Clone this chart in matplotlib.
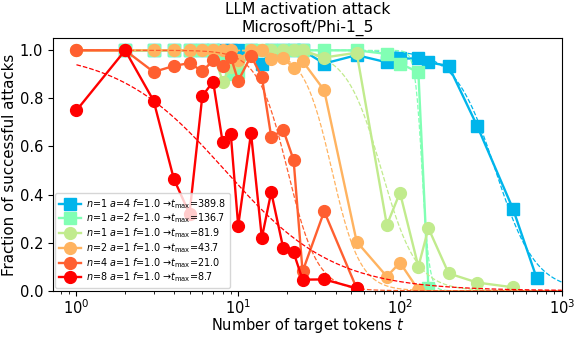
import numpy as np
import matplotlib
matplotlib.use("Agg")
import matplotlib.pyplot as plt

# ---------------- data ----------------
t_blue = [2,3,4,5,6,7,8,9,10,12,14,16,19,22,25,34,54,83,100,130,150,200,300,500,700]
v_blue = [1,1,1,1,1,1,1,1,1,1,0.945,1,1,1,1,0.945,0.98,0.95,0.966,0.966,0.95,0.935,0.686,0.34,0.053]

t_mint = [2,3,4,5,6,7,8,9,10,12,14,16,19,22,25,34,54,83,100,130,150]
v_mint = [1,1,1,1,1,1,0.95,0.9,0.91,1,1,1,1,1,1,1,1,0.985,0.945,0.909,0.01]

t_lgreen = [1,2,3,4,5,6,7,8,9,10,12,14,16,19,22,25,34,54,83,100,130,150,200,300,500]
v_lgreen = [1,1,1,1,1,1,1,0.87,0.93,0.95,1,1,1,1,1,1,0.97,0.99,0.273,0.408,0.1,0.26,0.072,0.034,0.014]

t_orange = [1,2,3,4,5,6,7,8,9,10,12,14,16,19,22,25,34,54,83,100,130]
v_orange = [1,1,1,1,1,1,1,1,1,0.96,1,1,0.964,0.968,0.927,0.955,0.834,0.204,0.059,0.117,0.003]

t_ored = [1,2,3,4,5,6,7,8,9,10,12,14,16,19,22,25,34,54]
v_ored = [1,1,0.91,0.935,0.947,0.913,0.958,0.934,0.972,0.873,0.977,0.89,0.64,0.668,0.544,0.08,0.33,0.01]

t_red = [1,2,3,4,5,6,7,8,9,10,12,14,16,19,22,25,34,54]
v_red = [0.75,1.0,0.79,0.465,0.32,0.81,0.87,0.62,0.65,0.27,0.655,0.22,0.41,0.176,0.159,0.046,0.047,0.01]

labels = [r"$n$=1 $a$=4 $f$=1.0 →$t_{\rm max}$=389.8",
          r"$n$=1 $a$=2 $f$=1.0 →$t_{\rm max}$=136.7",
          r"$n$=1 $a$=1 $f$=1.0 →$t_{\rm max}$=81.9",
          r"$n$=2 $a$=1 $f$=1.0 →$t_{\rm max}$=43.7",
          r"$n$=4 $a$=1 $f$=1.0 →$t_{\rm max}$=21.0",
          r"$n$=8 $a$=1 $f$=1.0 →$t_{\rm max}$=8.7"]

# fitted curve parameters (midpoint, steepness) per series
fit_t0 = [390, 137, 77, 38, 20.2, 8.3]
fit_k = [3.5, 20, 4, 5, 4.7, 1.3]

ts = [t_blue, t_mint, t_lgreen, t_orange, t_ored, t_red]
vs = [v_blue, v_mint, v_lgreen, v_orange, v_ored, v_red]
markers = ['s', 's', 'o', 'o', 'o', 'o']
colors = [plt.cm.rainbow(x) for x in [0.25, 0.5, 0.625, 0.75, 0.875, 1.0]]

# ---------------- plot ----------------
fig = plt.figure(figsize=(5.81, 3.38), dpi=100)
ax = fig.add_axes([53/581, (338-290.7)/338, (561.7-53)/581, (290.7-38.3)/338])

tfit = np.logspace(0, 3, 300)
for t, v, m, c, lab, t0, k in zip(ts, vs, markers, colors, labels, fit_t0, fit_k):
    ax.plot(t, v, marker=m, color=c, lw=1.7, ms=8 if m == 's' else 8.5, label=lab)
    ax.plot(tfit, 1/(1+(tfit/t0)**k), '--', color=c, lw=0.9)

ax.set_xscale('log')
ax.set_xlim(10**-0.145, 1000)
ax.set_ylim(0, 1.05)
ax.set_yticks([0, 0.2, 0.4, 0.6, 0.8, 1.0])
ax.tick_params(labelsize=10.5)
ax.tick_params(axis='x', pad=2)
ax.set_xlabel(r"Number of target tokens $t$", fontsize=10.5)
ax.xaxis.set_label_coords(0.5, -0.1)
ax.set_ylabel("Fraction of successful attacks", fontsize=10.8)
ax.yaxis.set_label_coords(-0.07, 0.5)
ax.set_title("LLM activation attack\nMicrosoft/Phi-1_5", fontsize=11.2, pad=5)
ax.legend(loc='lower left', fontsize=6.9, handlelength=2.3, borderpad=0.4,
          labelspacing=0.1, handletextpad=0.5, borderaxespad=0.25)

fig.savefig("out.png", dpi=100)
